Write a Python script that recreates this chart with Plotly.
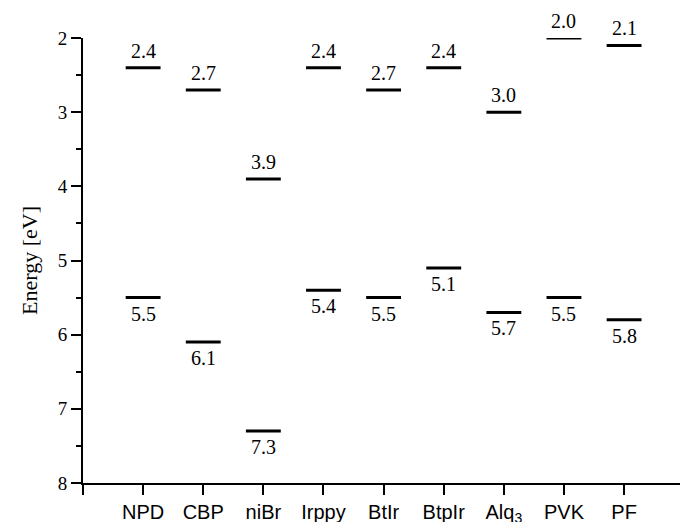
import plotly.graph_objects as go

# Frontier orbital energies (eV) of the OLED materials
materials = ["NPD", "CBP", "niBr", "Irppy", "BtIr", "BtpIr", "Alq<sub>3</sub>", "PVK", "PF"]
lumo = [2.4, 2.7, 3.9, 2.4, 2.7, 2.4, 3.0, 2.0, 2.1]
homo = [5.5, 6.1, 7.3, 5.4, 5.5, 5.1, 5.7, 5.5, 5.8]

HALF = 0.29  # half-width of a level bar, in category units
positions = list(range(1, len(materials) + 1))
SERIF = "Liberation Serif"


def bar_segments(levels):
    xs, ys = [], []
    for p, v in zip(positions, levels):
        xs += [p - HALF, p + HALF, None]
        ys += [v, v, None]
    return xs, ys


fig = go.Figure()
annotations = []
# LUMO values sit above their bar, HOMO values below
for levels, shift in ((lumo, 17), (homo, -16)):
    xs, ys = bar_segments(levels)
    fig.add_trace(go.Scatter(x=xs, y=ys, mode="lines",
                             line=dict(color="black", width=3),
                             hoverinfo="skip", showlegend=False))
    for p, v in zip(positions, levels):
        annotations.append(dict(
            x=p, y=v, xref="x", yref="y", text=f"{v:.1f}", showarrow=False,
            yanchor="middle", xanchor="center", yshift=shift,
            font=dict(family=SERIF, size=20, color="black"),
        ))

fig.update_layout(
    template="none",
    width=680, height=522,
    margin=dict(l=83, r=0, t=38, b=39),
    plot_bgcolor="white", paper_bgcolor="white",
    showlegend=False,
    annotations=annotations,
    xaxis=dict(
        range=[0, 9.93], automargin=False,
        tickmode="array", tickvals=positions, ticktext=materials,
        ticks="outside", ticklen=10, tickwidth=2, tickcolor="black",
        minor=dict(tickvals=[0], ticks="outside", ticklen=10,
                   tickwidth=2, tickcolor="black", showgrid=False),
        showline=True, linecolor="black", linewidth=2,
        showgrid=False, zeroline=False,
        tickfont=dict(family="Liberation Sans", size=20, color="black"),
    ),
    yaxis=dict(
        range=[8, 2], automargin=False,
        tickmode="array", tickvals=[2, 3, 4, 5, 6, 7, 8],
        ticks="outside", ticklen=10, tickwidth=2, tickcolor="black",
        minor=dict(tickvals=[2.5, 3.5, 4.5, 5.5, 6.5, 7.5], ticks="outside",
                   ticklen=5, tickwidth=2, tickcolor="black", showgrid=False),
        showline=True, linecolor="black", linewidth=2,
        showgrid=False, zeroline=False,
        tickfont=dict(family=SERIF, size=19, color="black"),
        title=dict(text="Energy [eV]", standoff=14,
                   font=dict(family=SERIF, size=22, color="black")),
    ),
)

fig.write_html("out.html")
